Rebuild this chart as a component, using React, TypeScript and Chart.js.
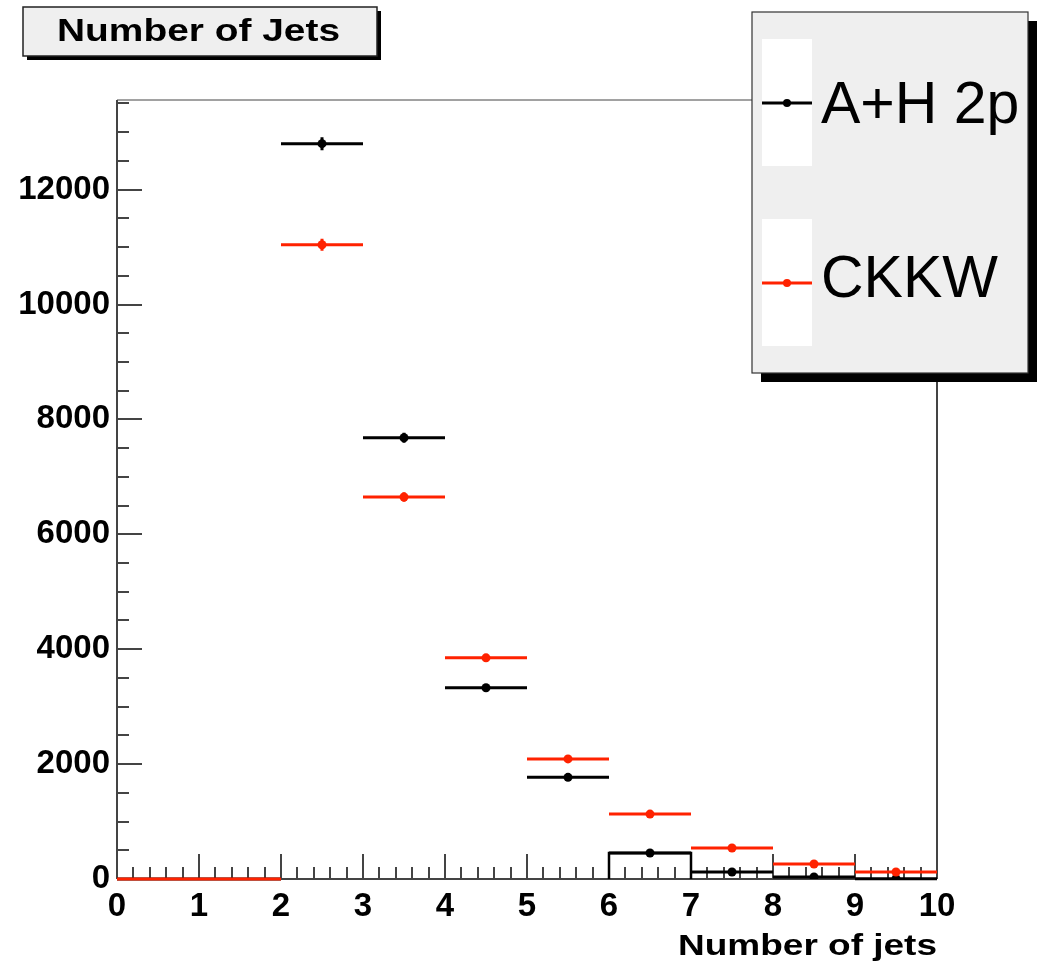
import React, { useEffect, useRef } from "react";
import { Chart, registerables } from "chart.js";
Chart.register(...registerables);

// ---- data ----
const binEdges = [0, 1, 2, 3, 4, 5, 6, 7, 8, 9, 10];
const binCenters = [0.5, 1.5, 2.5, 3.5, 4.5, 5.5, 6.5, 7.5, 8.5, 9.5];
const ahValues = [0, 0, 12800, 7680, 3330, 1770, 453, 122, 35, 5];
const ckkwValues = [0, 0, 11040, 6650, 3850, 2090, 1130, 540, 261, 122];
const seriesNames = ["A+H 2p", "CKKW"];
const seriesColors = ["#000000", "#ff2200"];
const xTickLabels = ["0", "1", "2", "3", "4", "5", "6", "7", "8", "9", "10"];
const yTickLabels = [0, 2000, 4000, 6000, 8000, 10000, 12000];
const chartTitle = "Number of Jets";
const xAxisTitle = "Number of jets";
const yMax = 13560;

const FONT = '"Liberation Sans", Arial, Helvetica, sans-serif';

function stretchText(ctx: CanvasRenderingContext2D, text: string, x: number, y: number, font: string, target: number, align: "left" | "right") {
  ctx.save();
  ctx.font = font;
  const w = ctx.measureText(text).width;
  ctx.textAlign = "left";
  ctx.textBaseline = "alphabetic";
  const s = target / w;
  ctx.translate(align === "right" ? x - target : x, y);
  ctx.scale(s, 1);
  ctx.fillText(text, 0, 0);
  ctx.restore();
}

const rootPlugin = {
  id: "rootStyle",
  beforeDatasetsDraw(chart: any) {
    const ctx: CanvasRenderingContext2D = chart.ctx;
    const xs = chart.scales.x;
    const ys = chart.scales.y;
    const L = xs.getPixelForValue(0), R = xs.getPixelForValue(10);
    const B = ys.getPixelForValue(0), T = ys.getPixelForValue(yMax);
    ctx.save();
    ctx.strokeStyle = "#444";
    ctx.lineWidth = 1;
    ctx.beginPath();
    ctx.moveTo(L, T); ctx.lineTo(R, T);
    ctx.stroke();
    ctx.lineWidth = 2;
    ctx.beginPath();
    ctx.moveTo(R, T); ctx.lineTo(R, B);
    ctx.moveTo(L, T); ctx.lineTo(L, B);
    ctx.moveTo(L, B); ctx.lineTo(R, B);
    for (let v = 0; v <= yMax; v += 500) {
      const py = Math.round(ys.getPixelForValue(v));
      const len = v % 2000 === 0 ? 25 : 12;
      ctx.moveTo(L, py); ctx.lineTo(L + len, py);
    }
    for (let i = 0; i <= 50; i++) {
      const v = i * 0.2;
      const px = Math.round(xs.getPixelForValue(v));
      const len = i % 5 === 0 ? 25 : 12;
      ctx.moveTo(px, B); ctx.lineTo(px, B - len);
    }
    ctx.stroke();
    ctx.fillStyle = "#000";
    ctx.font = "bold 33px " + FONT;
    ctx.textBaseline = "alphabetic";
    ctx.textAlign = "right";
    yTickLabels.forEach((v) => {
      ctx.fillText(String(v), 110, ys.getPixelForValue(v) + 9);
    });
    ctx.textAlign = "center";
    xTickLabels.forEach((t) => {
      ctx.fillText(t, xs.getPixelForValue(Number(t)), 916);
    });
    stretchText(ctx, xAxisTitle, R, 955, "bold 30px " + FONT, 259, "right");
    ctx.restore();
  },
  beforeDatasetDraw(chart: any, args: any) {
    const ds = chart.data.datasets[args.index];
    if (!ds.errBars) return;
    const ctx: CanvasRenderingContext2D = chart.ctx;
    const xs = chart.scales.x;
    const ys = chart.scales.y;
    ctx.save();
    ctx.strokeStyle = ds.borderColor;
    ctx.lineWidth = 3;
    ctx.beginPath();
    ds.data.forEach((p: any, i: number) => {
      const py = ys.getPixelForValue(p.y);
      ctx.moveTo(xs.getPixelForValue(binEdges[i]), py);
      ctx.lineTo(xs.getPixelForValue(binEdges[i + 1]), py);
      const e = Math.sqrt(p.y);
      if (e > 0) {
        const px = xs.getPixelForValue(p.x);
        ctx.moveTo(px, ys.getPixelForValue(p.y - e));
        ctx.lineTo(px, ys.getPixelForValue(p.y + e));
      }
    });
    ctx.stroke();
    ctx.restore();
  },
  afterDraw(chart: any) {
    const ctx: CanvasRenderingContext2D = chart.ctx;
    ctx.save();
    ctx.fillStyle = "#000";
    ctx.fillRect(27, 11, 354, 49);
    ctx.fillStyle = "#efefef";
    ctx.fillRect(23, 7, 354, 49);
    ctx.strokeStyle = "#222";
    ctx.lineWidth = 1.5;
    ctx.strokeRect(23, 7, 354, 49);
    ctx.fillStyle = "#000";
    stretchText(ctx, chartTitle, 57, 41, "bold 31px " + FONT, 283, "left");

    const bx = 752, by = 12, bw = 276, bh = 361;
    ctx.fillStyle = "#000";
    ctx.fillRect(bx + 9, by + 9, bw, bh);
    ctx.fillStyle = "#efefef";
    ctx.fillRect(bx, by, bw, bh);
    ctx.strokeStyle = "#333";
    ctx.lineWidth = 1.2;
    ctx.strokeRect(bx, by, bw, bh);
    const rows = [
      { top: 39, line: 103, base: 123 },
      { top: 219, line: 283, base: 297 },
    ];
    rows.forEach((r, i) => {
      ctx.fillStyle = "#fff";
      ctx.fillRect(762, r.top, 50, 127);
      ctx.strokeStyle = seriesColors[i];
      ctx.lineWidth = 3;
      ctx.beginPath();
      ctx.moveTo(762, r.line);
      ctx.lineTo(812, r.line);
      ctx.stroke();
      ctx.fillStyle = seriesColors[i];
      ctx.beginPath();
      ctx.arc(787, r.line, 4, 0, Math.PI * 2);
      ctx.fill();
      ctx.fillStyle = "#000";
      ctx.font = "59px " + FONT;
      ctx.textAlign = "left";
      ctx.textBaseline = "alphabetic";
      ctx.fillText(seriesNames[i], 821, r.base);
    });
    ctx.restore();
  },
};

export default function App() {
  const ref = useRef<HTMLCanvasElement>(null);
  useEffect(() => {
    const canvas = ref.current!;
    const boxData = [
      { x: binEdges[6], y: 0 },
      { x: binEdges[6], y: ahValues[6] },
      { x: binEdges[7], y: ahValues[6] },
      { x: binEdges[7], y: 0 },
    ];
    const mk = (vals: number[]) => binCenters.map((x, i) => ({ x, y: vals[i] }));
    const chart = new Chart(canvas, {
      type: "scatter",
      data: {
        datasets: [
          {
            label: "outline",
            data: boxData,
            showLine: true,
            borderColor: "#000",
            borderWidth: 2.5,
            pointRadius: 0,
            tension: 0,
            order: 3,
          } as any,
          {
            label: seriesNames[0],
            data: mk(ahValues),
            borderColor: seriesColors[0],
            backgroundColor: seriesColors[0],
            pointRadius: (c: any) => (c.raw && c.raw.y > 0 ? 4.5 : 0),
            pointBorderWidth: 0,
            errBars: true,
            order: 2,
          } as any,
          {
            label: seriesNames[1],
            data: mk(ckkwValues),
            borderColor: seriesColors[1],
            backgroundColor: seriesColors[1],
            pointRadius: (c: any) => (c.raw && c.raw.y > 0 ? 4.5 : 0),
            pointBorderWidth: 0,
            errBars: true,
            order: 1,
          } as any,
        ],
      },
      options: {
        responsive: false,
        animation: false,
        events: [],
        layout: { padding: { left: 117, right: 103, top: 100, bottom: 85 } },
        scales: {
          x: { type: "linear", min: 0, max: 10, display: false },
          y: { type: "linear", min: 0, max: yMax, display: false },
        },
        plugins: { legend: { display: false }, tooltip: { enabled: false }, title: { display: false } },
      },
      plugins: [rootPlugin as any],
    });
    return () => chart.destroy();
  }, []);
  return (
    <div style={{ position: "absolute", left: 0, top: 0, width: 1040, height: 964, background: "#fff" }}>
      <canvas ref={ref} width={1040} height={964} style={{ display: "block" }} />
    </div>
  );
}
